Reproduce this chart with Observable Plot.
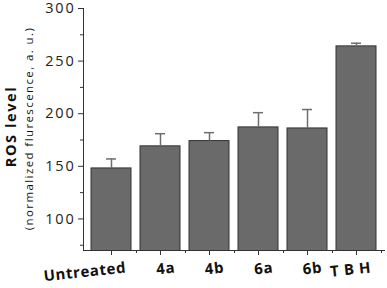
<!DOCTYPE html>
<html>
<head>
<meta charset="utf-8">
<script src="https://cdn.jsdelivr.net/npm/d3@7"></script>
<script src="https://cdn.jsdelivr.net/npm/@observablehq/plot@0.6"></script>
<style>
  html, body { margin: 0; padding: 0; background: #fff; }
  g[aria-label="y-axis tick label"] text { letter-spacing: 1.8px; }
  .ytitle text { letter-spacing: 1.6px; }
  .ysub text { letter-spacing: 1.4px; }
  .xlab text { letter-spacing: 0.6px; }
</style>
</head>
<body>
<div id="chart"></div>
<script>
const categories = ["Untreated", "4a", "4b", "6a", "6b", "TBH"];
const labels = ["Untreated", "4a", "4b", "6a", "6b", "T B H"];
const values = [148, 169, 174, 187, 186, 264];
const errors = [9, 12, 8, 14, 18, 3];
const yDomain = [70, 300];
const majorTicks = [100, 150, 200, 250, 300];
const minorTicks = [75, 125, 175, 225, 275];
const yTitle = "ROS level";
const ySubtitle = "(normalized flurescence, a. u.)";

const data = categories.map((c, i) => ({cat: c, label: labels[i], v: values[i], hi: values[i] + errors[i]}));

const font = "'Open Sans', 'DejaVu Sans', sans-serif";

const chart = Plot.plot({
  width: 387,
  height: 288,
  marginLeft: 83,
  marginRight: 3,
  marginTop: 8,
  marginBottom: 38,
  style: {fontFamily: font, background: "#fff", color: "#222"},
  x: {domain: categories, padding: 0.18, paddingOuter: 0.1, align: 0.5},
  y: {domain: yDomain},
  marks: [
    Plot.barY(data, {x: "cat", y: "v", fill: "#6a6a6a", stroke: "#333", strokeWidth: 1, clip: true}),
    Plot.ruleX(data, {x: "cat", y1: "v", y2: "hi", stroke: "#6e6e6e", strokeWidth: 1.5}),
    Plot.tickY(data, {x: "cat", y: "hi", stroke: "#6e6e6e", strokeWidth: 1.5, insetLeft: 15, insetRight: 15}),
    Plot.axisY({ticks: majorTicks, tickSize: 5, tickPadding: 3, fontSize: 14.5, stroke: "#333", strokeWidth: 1, label: null}),
    Plot.axisY({ticks: minorTicks, tickSize: 3, text: null, stroke: "#333", label: null}),
    Plot.axisX({tickSize: 5, text: null, stroke: "#333", label: null}),
    Plot.axisX({tickSize: 3, text: null, stroke: "#333", label: null, dx: 25}),
    Plot.frame({anchor: "left", stroke: "#333"}),
    Plot.frame({anchor: "bottom", stroke: "#333"}),
    Plot.text(data, {x: "cat", text: "label", frameAnchor: "bottom", dy: 22, dx: 15, textAnchor: "end", rotate: -6, fontSize: 15, fontWeight: "bold", fill: "#111", className: "xlab"}),
    Plot.text([yTitle], {text: d => d, frameAnchor: "left", textAnchor: "middle", rotate: -90, dx: -72, dy: -3, fontSize: 14.5, fontWeight: "bold", fill: "#111", className: "ytitle"}),
    Plot.text([ySubtitle], {text: d => d, frameAnchor: "left", textAnchor: "middle", rotate: -90, dx: -54, dy: -1, fontSize: 11.5, fill: "#111", className: "ysub"})
  ]
});
document.getElementById("chart").appendChild(chart);
</script>
</body>
</html>
